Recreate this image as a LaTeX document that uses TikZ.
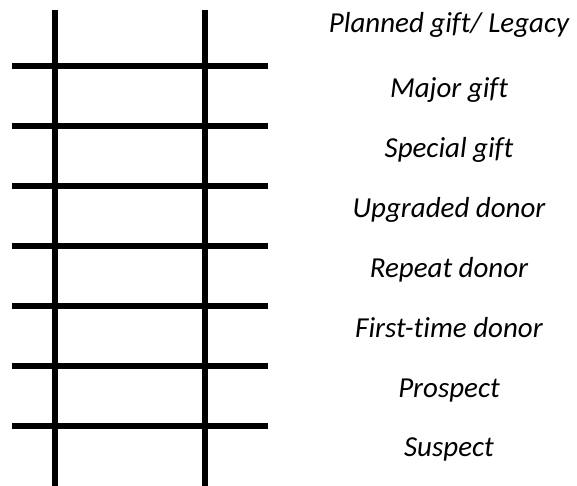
\documentclass[tikz,border=0pt]{standalone}
\usepackage{fontspec}
\setmainfont[Ligatures=NoCommon]{Carlito}
\usepackage{tikz}

\tikzset{
	rung/.style={line width=1.45mm},
	stile/.style={line width=1.35mm},
	stage/.style={anchor=base, inner sep=0pt, font=\fontsize{20.6}{22}\selectfont\itshape}
}

\begin{document}
\begin{tikzpicture}
			%%%%% START %%%%%
			
			\useasboundingbox (0, 0) rectangle (14.425, 12.15);
			
			\draw[stile] (1.375, 11.9) -- (1.375, 0);
			\draw[stile] (5.125, 11.9) -- (5.125, 0);
			
			\draw[rung] (0.3, 10.5) -- (6.71, 10.5);
			\draw[rung] (0.3, 9.0) -- (6.71, 9.0);
			\draw[rung] (0.3, 7.5) -- (6.71, 7.5);
			\draw[rung] (0.3, 6.0) -- (6.71, 6.0);
			\draw[rung] (0.3, 4.5) -- (6.71, 4.5);
			\draw[rung] (0.3, 3.0) -- (6.71, 3.0);
			\draw[rung] (0.3, 1.5) -- (6.71, 1.5);
			
			\node[stage] (legacy) at (11.225, 11.34) {Planned gift/ Legacy};
			\node[stage] (major) at (11.225, 9.72) {Major gift};
			\node[stage] (special) at (11.225, 8.2) {Special gift};
			\node[stage] (upgraded) at (11.225, 6.7) {Upgraded donor};
			\node[stage] (repeat) at (11.225, 5.2) {Repeat donor};
			\node[stage] (firsttime) at (11.225, 3.72) {First-time donor};
			\node[stage] (prospect) at (11.225, 2.22) {Prospect};
			\node[stage] (suspect) at (11.225, 0.73) {Suspect};
			
			%%%%% END %%%%%
\end{tikzpicture}
\end{document}
